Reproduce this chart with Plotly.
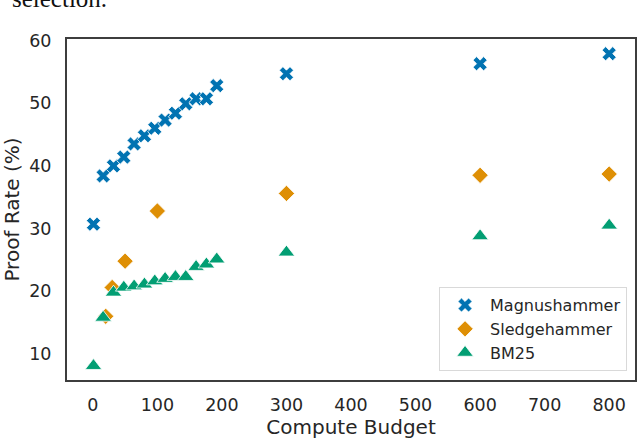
import plotly.graph_objects as go

# compute budget / proof rate (%)
mag_x = [1, 16, 32, 48, 64, 80, 96, 112, 128, 144, 160, 176, 192, 300, 600, 800]
mag_y = [30.7, 38.4, 40.0, 41.4, 43.5, 44.8, 46.0, 47.3, 48.4, 49.9, 50.7, 50.7, 52.8, 54.7, 56.3, 57.9]

sledge_x = [20, 30, 50, 100, 300, 600, 800]
sledge_y = [16.0, 20.6, 24.8, 32.8, 35.6, 38.5, 38.7]

bm25_x = [1, 16, 32, 48, 64, 80, 96, 112, 128, 144, 160, 176, 192, 300, 600, 800]
bm25_y = [8.1, 15.8, 19.8, 20.6, 20.8, 21.1, 21.6, 22.0, 22.3, 22.3, 23.9, 24.3, 25.1, 26.2, 28.8, 30.5]

x_ticks = [0, 100, 200, 300, 400, 500, 600, 700, 800]
y_ticks = [10, 20, 30, 40, 50, 60]

TEXT = "#262626"
SPINE = "#3d3d3d"

fig = go.Figure()

fig.add_trace(go.Scatter(
    x=mag_x, y=mag_y, mode="markers", name="Magnushammer",
    marker=dict(symbol="x", size=12.5, color="#0173b2", line=dict(color="white", width=0.8)),
))
fig.add_trace(go.Scatter(
    x=sledge_x, y=sledge_y, mode="markers", name="Sledgehammer",
    marker=dict(symbol="diamond", size=12.5, color="#de8f05", line=dict(color="white", width=0.8)),
))
fig.add_trace(go.Scatter(
    x=bm25_x, y=bm25_y, mode="markers", name="BM25",
    marker=dict(symbol="triangle-up", size=14.5, color="#029e73", line=dict(color="white", width=0.8)),
))

# cropped caption text from the paper above the figure
fig.add_annotation(
    text="selection.", xref="paper", yref="paper", x=-0.1, y=1.072,
    xanchor="left", yanchor="bottom", showarrow=False,
    font=dict(family="Liberation Serif", size=25, color="#111111"),
)

axis_common = dict(
    showgrid=False, zeroline=False, ticks="",
    showline=True, linecolor=SPINE, linewidth=2, mirror=True,
    tickfont=dict(family="DejaVu Sans", size=17.5, color=TEXT),
)

fig.update_layout(
    width=640, height=441,
    margin=dict(l=67, r=3, t=39, b=61),
    paper_bgcolor="white", plot_bgcolor="white",
    font=dict(family="DejaVu Sans", color=TEXT),
    xaxis=dict(
        range=[-40, 840], tickvals=x_ticks, ticklabelstandoff=8,
        title=dict(text="Compute Budget", font=dict(size=20, color=TEXT), standoff=6),
        **axis_common,
    ),
    yaxis=dict(
        range=[5.84, 60.24], tickvals=y_ticks, ticklabelstandoff=10,
        title=dict(text="Proof Rate (%)", font=dict(size=20, color=TEXT), standoff=10),
        **axis_common,
    ),
    legend=dict(
        x=0.986, y=0.026, xanchor="right", yanchor="bottom",
        bgcolor="white", bordercolor="#d9d9d9", borderwidth=1,
        font=dict(family="DejaVu Sans", size=16, color=TEXT),
        itemwidth=40,
    ),
)

# the page's default body margin would shift the fixed-size figure
fig.write_html(
    "out.html",
    config={"displayModeBar": False},
    post_script="document.body.style.margin = '0';",
)
